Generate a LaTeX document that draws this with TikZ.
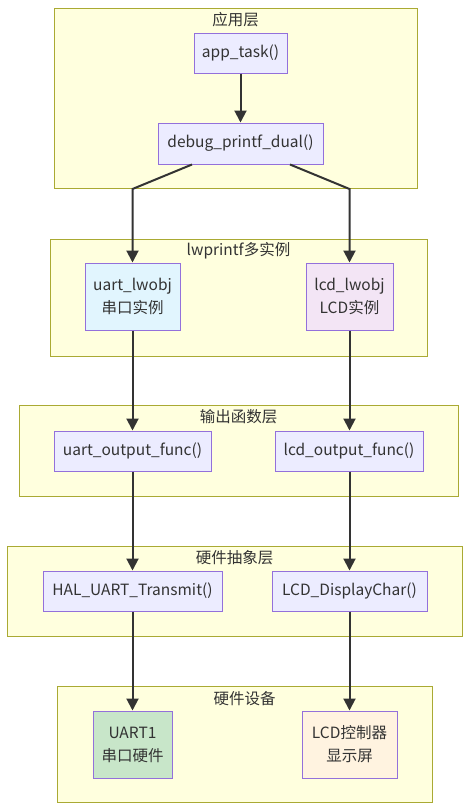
\documentclass[tikz,border=0pt]{standalone}
\usepackage{fontspec}
\setmainfont{Noto Sans CJK SC}
\usetikzlibrary{arrows.meta,calc}
\definecolor{clfill}{HTML}{FFFFDE}
\definecolor{cldraw}{HTML}{AAAA33}
\definecolor{ndfill}{HTML}{ECECFF}
\definecolor{nddraw}{HTML}{9370DB}
\definecolor{txt}{HTML}{333333}
\definecolor{lblue}{HTML}{E1F5FE}
\definecolor{lpurple}{HTML}{F3E5F5}
\definecolor{lgreen}{HTML}{C8E6C9}
\definecolor{lorange}{HTML}{FFF3E0}
\tikzset{
  cluster/.style={draw=cldraw,fill=clfill,line width=1pt},
  cltitle/.style={text=txt,font=\fontsize{15.5}{17}\selectfont,anchor=center},
  fn/.style={draw=nddraw,fill=ndfill,line width=1pt,text=txt,font=\fontsize{15.5}{23}\selectfont,align=center,inner sep=0pt},
  flow/.style={draw=txt,line width=2pt,-{Triangle[width=12pt,length=12pt]}}
}
\begin{document}
\begin{tikzpicture}[x=1pt,y=-1pt]
\useasboundingbox (0,0) rectangle (470,811);
% clusters
\path[cluster] (54,8) rectangle (417,188);
\node[cltitle] (t1) at (235.5,20) {应用层};
\path[cluster] (50,239) rectangle (427,356);
\node[cltitle] (t2) at (238.5,251) {lwprintf多实例};
\path[cluster] (19,405) rectangle (458,496);
\node[cltitle] (t3) at (238.5,417) {输出函数层};
\path[cluster] (7,546) rectangle (462,636);
\node[cltitle] (t4) at (234.5,558) {硬件抽象层};
\path[cluster] (57,686) rectangle (432,802);
\node[cltitle] (t5) at (244.5,699) {硬件设备};
% nodes
\node[fn,minimum width=93,minimum height=40] (app) at (240.5,53) {app\_task()};
\node[fn,minimum width=165,minimum height=41] (debug) at (240.5,143.5) {debug\_printf\_dual()};
\node[fn,fill=lblue,minimum width=95,minimum height=67] (ulw) at (132.5,296.5) {uart\_lwobj\\串口实例};
\node[fn,fill=lpurple,minimum width=87,minimum height=67] (llw) at (349.5,296.5) {lcd\_lwobj\\LCD实例};
\node[fn,minimum width=157,minimum height=40] (uout) at (132.5,451) {uart\_output\_func()};
\node[fn,minimum width=148,minimum height=40] (lout) at (349,451) {lcd\_output\_func()};
\node[fn,minimum width=179,minimum height=40] (hal) at (132.5,591) {HAL\_UART\_Transmit()};
\node[fn,minimum width=155,minimum height=40] (ldisp) at (349.5,591) {LCD\_DisplayChar()};
\node[fn,fill=lgreen,minimum width=79,minimum height=67] (u1) at (132.5,744.5) {UART1\\串口硬件};
\node[fn,fill=lorange,minimum width=95,minimum height=67] (lctl) at (349.5,744.5) {LCD控制器\\显示屏};
% edges
\coordinate (ds1) at ($(debug.south)+(-48.5,0)$);
\coordinate (ds2) at ($(debug.south)+(49.5,0)$);
\coordinate (b1) at (132.5,189);
\coordinate (b2) at (349.5,189);
\draw[flow] (app) -- (debug);
\draw[flow] (ds1) -- (b1) -- (ulw.north);
\draw[flow] (ds2) -- (b2) -- (llw.north);
\draw[flow] (ulw) -- (uout);
\draw[flow] (llw) -- (lout.north -| llw.south);
\draw[flow] (uout) -- (hal);
\draw[flow] (lout.south -| ldisp.north) -- (ldisp);
\draw[flow] (hal) -- (u1);
\draw[flow] (ldisp) -- (lctl);
\end{tikzpicture}
\end{document}
